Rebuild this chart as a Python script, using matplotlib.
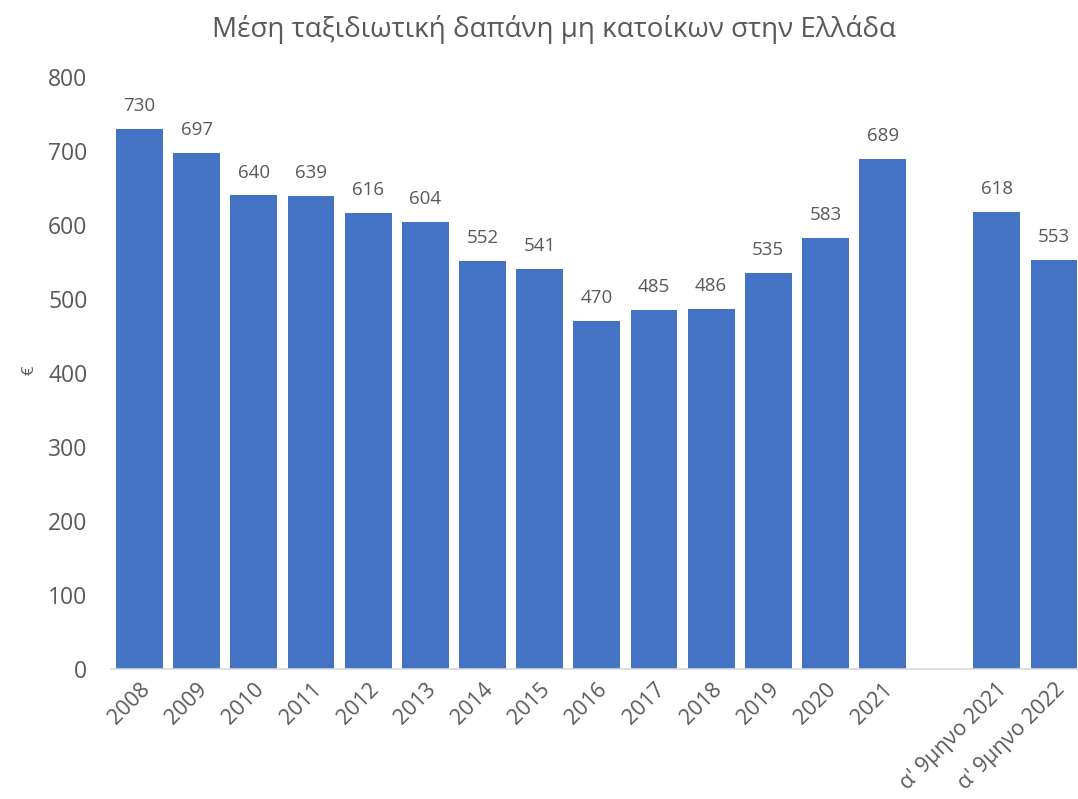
import matplotlib
matplotlib.use("Agg")
import matplotlib.pyplot as plt

plt.rcParams['font.family'] = ['Open Sans', 'DejaVu Sans']

categories = ["2008", "2009", "2010", "2011", "2012", "2013", "2014", "2015",
              "2016", "2017", "2018", "2019", "2020", "2021", "",
              "α' 9μηνο 2021", "α' 9μηνο 2022"]
values = [730, 697, 640, 639, 616, 604, 552, 541, 470, 485, 486, 535, 583, 689,
          None, 618, 553]
title = "Μέση ταξιδιωτική δαπάνη μη κατοίκων στην Ελλάδα"
y_label = "€"
y_ticks = [0, 100, 200, 300, 400, 500, 600, 700, 800]

bar_color = "#4472C4"
text_color = "#595959"

W, H = 1078, 799
fig = plt.figure(figsize=(W / 100, H / 100), dpi=100)
ax = fig.add_axes([111 / W, (H - 669) / H, (1082.6 - 111) / W, (669 - 77) / H])

xs = [i for i, v in enumerate(values) if v is not None]
ys = [v for v in values if v is not None]
ax.bar(xs, ys, width=0.82, color=bar_color, zorder=2)
for x, v in zip(xs, ys):
    ax.annotate(str(v), (x, v), xytext=(0, 10), textcoords="offset points",
                ha="center", va="bottom", fontsize=13.5, color=text_color)

ax.set_xlim(-0.5, len(categories) - 0.5)
ax.set_ylim(0, 800)
ax.set_yticks(y_ticks)
ax.set_yticklabels([str(t) for t in y_ticks], fontsize=16.5, color=text_color)
ax.set_xticks(range(len(categories)))
ax.set_xticklabels(categories, rotation=45, ha="right", rotation_mode="anchor",
                   fontsize=15.5, color=text_color)
ax.tick_params(axis="both", length=0)
ax.tick_params(axis="y", pad=17)
ax.tick_params(axis="x", pad=7)

for s in ["top", "right", "left"]:
    ax.spines[s].set_visible(False)
ax.spines["bottom"].set_color("#D9D9D9")
ax.spines["bottom"].set_linewidth(1.2)

fig.text(30 / W, 1 - 370 / H, y_label, rotation=90, ha="center", va="center",
         fontsize=12, color=text_color)
fig.text(0.514, 1 - 29 / H, title, ha="center", va="center", fontsize=20,
         color=text_color)

fig.savefig("out.png", dpi=100)
